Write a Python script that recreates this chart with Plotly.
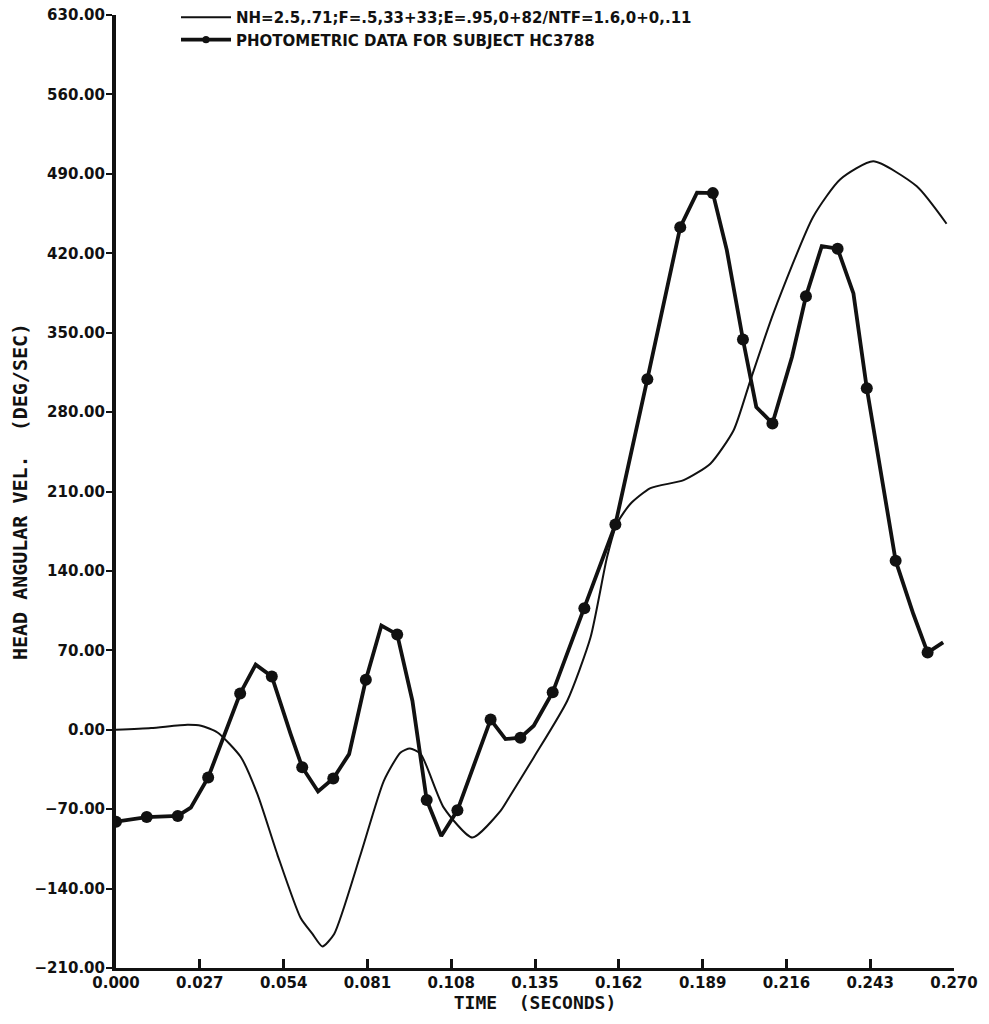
import plotly.graph_objects as go

MODEL_LABEL = "NH=2.5,.71;F=.5,33+33;E=.95,0+82/NTF=1.6,0+0,.11"
PHOTO_LABEL = "PHOTOMETRIC DATA FOR SUBJECT HC3788"

# model curve (thin line)
model_t = [0.0, 0.0113, 0.023, 0.0274, 0.0327, 0.0402, 0.0456, 0.052, 0.0595, 0.0633,
           0.0665, 0.0703, 0.0788, 0.0863, 0.0917, 0.0947, 0.0982, 0.1056, 0.1148, 0.1239,
           0.1266, 0.1346, 0.1454, 0.1529, 0.1582, 0.1614, 0.1657, 0.1722, 0.1829, 0.1915,
           0.199, 0.2044, 0.2118, 0.2246, 0.2333, 0.244, 0.258, 0.2676]
model_v = [0, 1.5, 4.4, 3.5, -2.4, -24, -57, -110, -166, -180,
           -191, -180, -110, -45, -20, -16.5, -21.5, -68.6, -95, -71.5,
           -60, -24.4, 25.6, 81.5, 152, 181.6, 199, 213, 220, 234.5,
           264, 308, 367, 452, 485, 501, 479, 446]

# photometric data points (markers)
photo_t = [0.0, 0.0099, 0.0199, 0.0297, 0.040, 0.0502, 0.060, 0.070, 0.0805, 0.0906,
           0.1001, 0.110, 0.1207, 0.1303, 0.1407, 0.1509, 0.1609, 0.1712, 0.1818, 0.1923,
           0.202, 0.2115, 0.2223, 0.2325, 0.2419, 0.2512, 0.2615]
photo_v = [-81, -77, -76, -42, 32, 47, -33, -43, 44, 84,
           -62, -71, 9, -7, 33, 107, 181, 309, 443, 473,
           344, 270, 382, 424, 301, 149, 68]

# extra vertices of the plotted photometric curve between the data points
bend_t = [0.0241, 0.045, 0.0563, 0.0651, 0.0751, 0.0855, 0.0955, 0.1048, 0.1255, 0.1346,
          0.1872, 0.1968, 0.2063, 0.2178, 0.2274, 0.2376, 0.2569, 0.2665]
bend_v = [-68.6, 57.4, -4, -54.4, -21.5, 91.8, 25.6, -93.6, -8.2, 3.5,
          473.4, 422.8, 284.5, 328.6, 426.3, 384.6, 102, 77]

x_ticks = [0.000, 0.027, 0.054, 0.081, 0.108, 0.135, 0.162, 0.189, 0.216, 0.243, 0.270]
y_ticks = [-210, -140, -70, 0, 70, 140, 210, 280, 350, 420, 490, 560, 630]

INK = "#111111"
LABEL_FONT = dict(family="DejaVu Sans", size=15, color=INK, weight="bold")

points = sorted(
    [(t, v, 12) for t, v in zip(photo_t, photo_v)]
    + [(t, v, 0) for t, v in zip(bend_t, bend_v)]
)

fig = go.Figure()
fig.add_trace(
    go.Scatter(
        x=model_t,
        y=model_v,
        mode="lines",
        name=MODEL_LABEL,
        line=dict(color=INK, width=2, shape="spline", smoothing=0.6),
    )
)
fig.add_trace(
    go.Scatter(
        x=[p[0] for p in points],
        y=[p[1] for p in points],
        mode="lines+markers",
        name=PHOTO_LABEL,
        line=dict(color=INK, width=3.8),
        marker=dict(color=INK, opacity=1, size=[p[2] for p in points], line=dict(width=0)),
    )
)

# page body adds an 8px offset, so the figure is sized to sit inside it
fig.update_layout(
    width=973,
    height=1008,
    margin=dict(l=108, r=27, t=7, b=48, autoexpand=False),
    paper_bgcolor="white",
    plot_bgcolor="white",
    showlegend=True,
    legend=dict(
        x=0.0716,
        y=1.0148,
        xanchor="left",
        yanchor="top",
        bgcolor="rgba(0,0,0,0)",
        font=LABEL_FONT,
        itemwidth=50,
        tracegroupgap=0,
    ),
    xaxis=dict(
        range=[0, 0.27],
        tickvals=x_ticks,
        tickformat=".3f",
        showgrid=False,
        zeroline=False,
        showline=True,
        linecolor=INK,
        linewidth=2.5,
        ticks="inside",
        ticklen=9,
        tickwidth=3,
        tickcolor=INK,
        tickfont=LABEL_FONT,
        ticklabelstandoff=-1,
        ticklabeloverflow="allow",
        title=dict(
            text="TIME  (SECONDS)",
            font=dict(family="DejaVu Sans Mono", size=18, color=INK, weight="bold"),
            standoff=6,
        ),
        automargin=False,
    ),
    yaxis=dict(
        range=[-210, 630],
        tickvals=y_ticks,
        tickformat=".2f",
        showgrid=False,
        zeroline=False,
        showline=True,
        linecolor=INK,
        linewidth=4,
        ticks="outside",
        ticklen=6,
        tickwidth=2,
        tickcolor=INK,
        tickfont=LABEL_FONT,
        ticklabelstandoff=-2,
        ticklabeloverflow="allow",
        title=dict(
            text="HEAD ANGULAR VEL.  (DEG/SEC)",
            font=dict(family="DejaVu Sans Mono", size=20, color=INK, weight="bold"),
            standoff=8,
        ),
        automargin=False,
    ),
)

fig.write_html("out.html")
